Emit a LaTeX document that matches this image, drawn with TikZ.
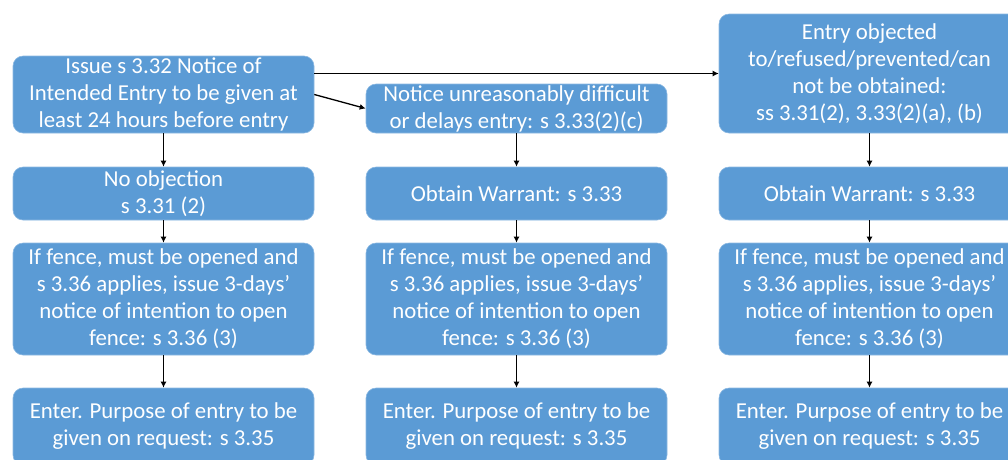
\documentclass[tikz,border=0pt]{standalone}
\usepackage{fontspec}
\setmainfont{Carlito}
\usetikzlibrary{arrows.meta}
\definecolor{boxblue}{HTML}{5B9BD5}
\tikzset{
  box/.style={rectangle, rounded corners=10pt, fill=boxblue, draw=boxblue!70!white, line width=0.6pt,
    text=white, align=center, minimum width=301pt, inner sep=0pt,
    font=\fontsize{22.8}{27}\selectfont},
  arr/.style={draw=black, line width=1.3pt, -{Latex[length=6pt,width=6pt]}}
}
\begin{document}
\begin{tikzpicture}[x=1pt,y=-1pt]
\useasboundingbox (0,0) rectangle (1008,459);
\clip (0,0) rectangle (1008,459);
% row 1
\node[box, minimum height=77pt] (a) at (163.5,94.5) {Issue s 3.32 Notice of\\Intended Entry to be given at\\least 24 hours before entry};
\node[box, minimum height=49pt] (b) at (516.5,108.5) {Notice unreasonably difficult\\or delays entry: s 3.33(2)(c)};
\node[box, minimum height=119pt] (c) at (869.5,73.5) {Entry objected\\to/refused/prevented/can\\not be obtained:\\ss 3.31(2), 3.33(2)(a), (b)};
% row 2
\node[box, minimum height=53pt] (a2) at (163.5,193.5) {No objection\\s 3.31 (2)};
\node[box, minimum height=53pt] (b2) at (516.5,193.5) {Obtain Warrant: s 3.33};
\node[box, minimum height=53pt] (c2) at (869.5,193.5) {Obtain Warrant: s 3.33};
% row 3
\node[box, minimum height=112pt] (a3) at (163.5,299) {If fence, must be opened and\\s 3.36 applies, issue 3-days’\\notice of intention to open\\fence: s 3.36 (3)};
\node[box, minimum height=112pt] (b3) at (516.5,299) {If fence, must be opened and\\s 3.36 applies, issue 3-days’\\notice of intention to open\\fence: s 3.36 (3)};
\node[box, minimum height=112pt] (c3) at (869.5,299) {If fence, must be opened and\\s 3.36 applies, issue 3-days’\\notice of intention to open\\fence: s 3.36 (3)};
% row 4
\node[box, minimum height=77pt] (a4) at (163.5,426.5) {Enter. Purpose of entry to be\\given on request: s 3.35};
\node[box, minimum height=77pt] (b4) at (516.5,426.5) {Enter. Purpose of entry to be\\given on request: s 3.35};
\node[box, minimum height=77pt] (c4) at (869.5,426.5) {Enter. Purpose of entry to be\\given on request: s 3.35};
% connectors
\draw[arr] (a.east |- c.west) -- (c.west);
\draw[arr] (a.east) -- (b.west);
\draw[arr] (a) -- (a2);
\draw[arr] (b) -- (b2);
\draw[arr] (c) -- (c2);
\draw[arr] (a2) -- (a3);
\draw[arr] (b2) -- (b3);
\draw[arr] (c2) -- (c3);
\draw[arr] (a3) -- (a4);
\draw[arr] (b3) -- (b4);
\draw[arr] (c3) -- (c4);
\end{tikzpicture}
\end{document}
